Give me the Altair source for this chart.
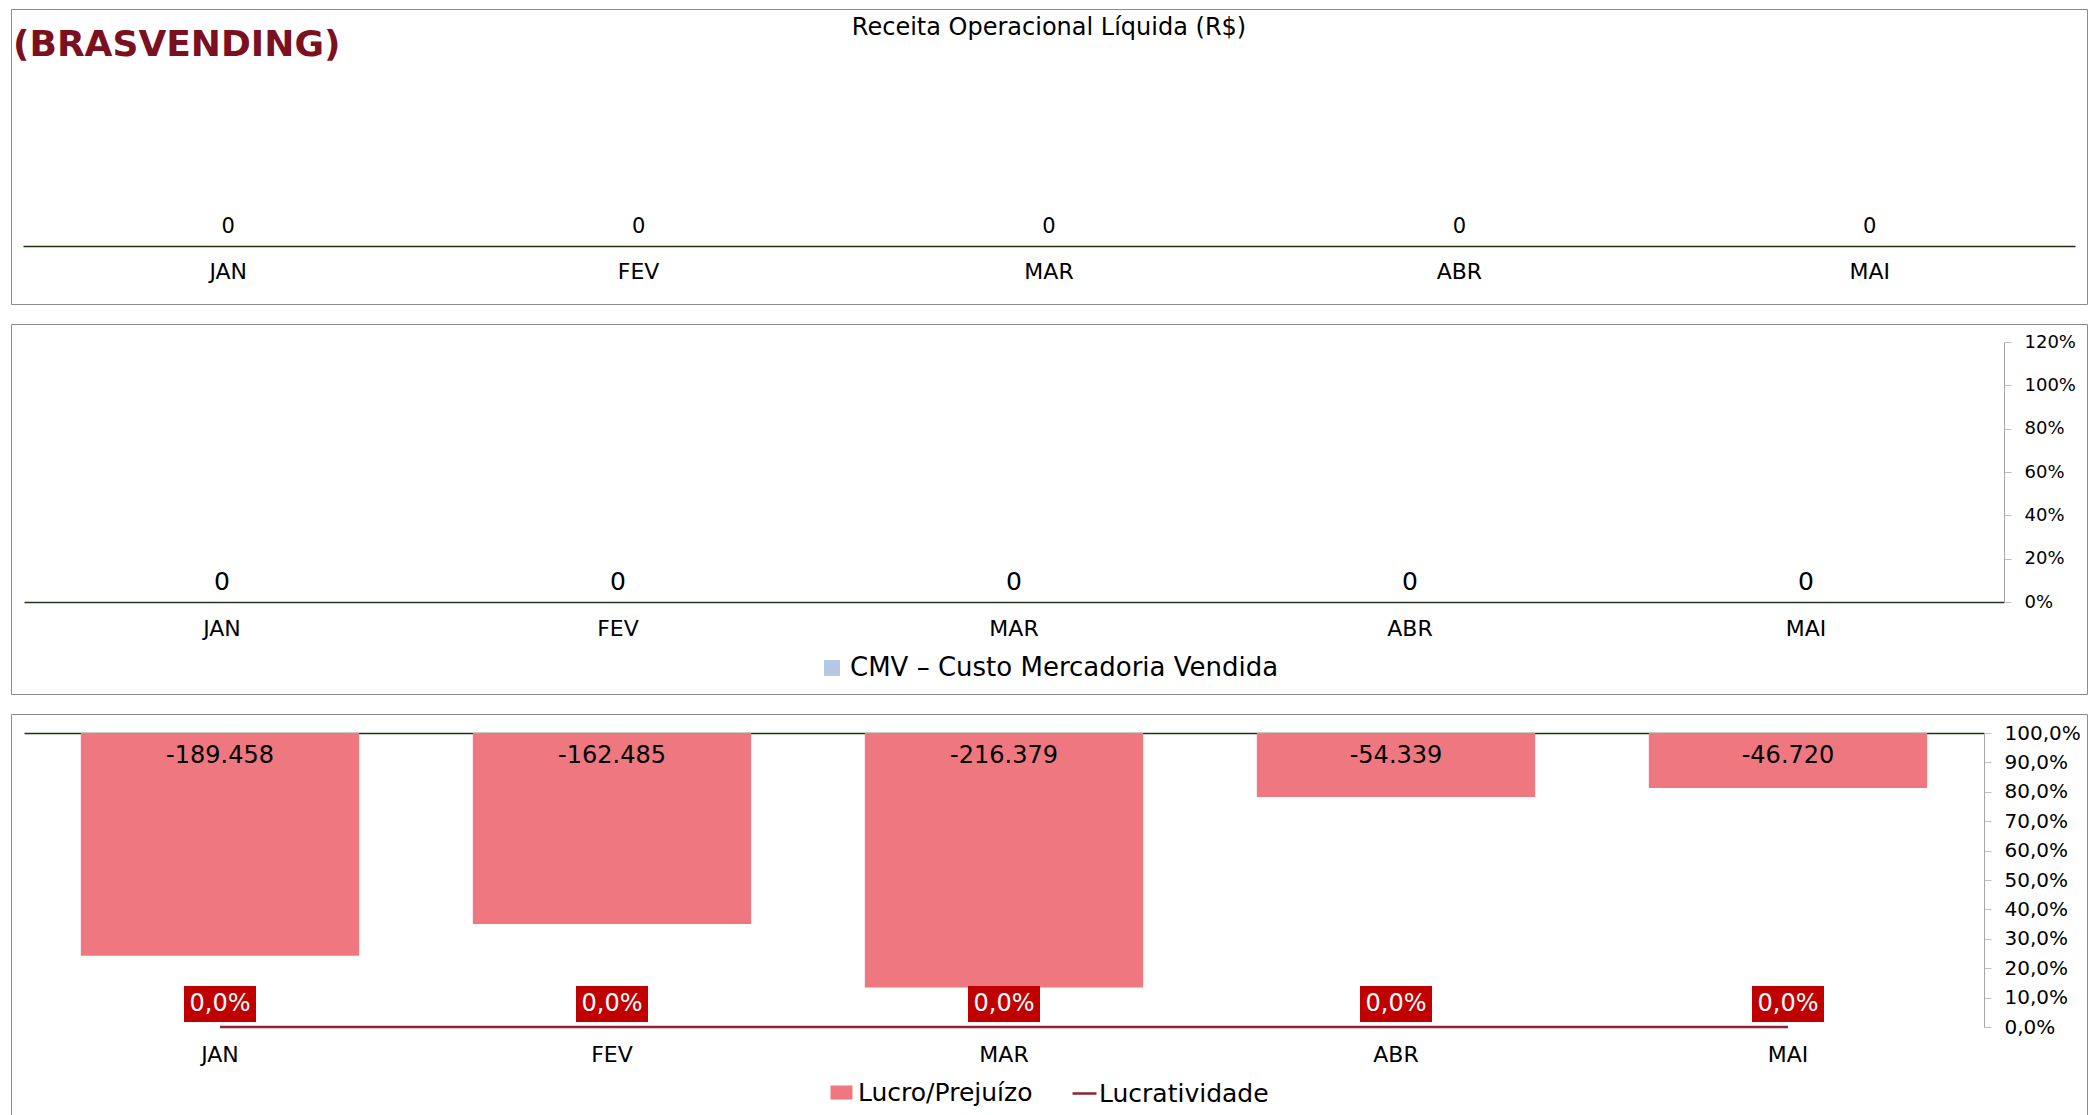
import altair as alt
import pandas as pd

# ---------------- data ----------------
months = ["JAN", "FEV", "MAR", "ABR", "MAI"]
receita = [0, 0, 0, 0, 0]
cmv = [0, 0, 0, 0, 0]
lucro = [-189458, -162485, -216379, -54339, -46720]
lucratividade = [0.0, 0.0, 0.0, 0.0, 0.0]
company = "(BRASVENDING)"
title_receita = "Receita Operacional Líquida (R$)"
serie_cmv = "CMV – Custo Mercadoria Vendida"
serie_lucro = "Lucro/Prejuízo"
serie_lucr = "Lucratividade"

FONT = "DejaVu Sans"
W = 2076
H1, H2, H3 = 295, 370, 402
BAR_RED = "#EE7780"
DARK_RED = "#8E2433"
BOX_RED = "#C00000"
CMV_BLUE = "#B4C7E7"
ZERO_GREEN = "#1B3310"


def br_int(v):
    return f"{v:,}".replace(",", ".")


def br_pct(v):
    return f"{v * 100:.1f}%".replace(".", ",")


df1 = pd.DataFrame({"mes": months, "valor": receita})
df2 = pd.DataFrame({"mes": months, "valor": cmv, "serie": [serie_cmv] * len(months)})
df3 = pd.DataFrame({
    "mes": months,
    "lucro": lucro,
    "lucr": lucratividade,
    "lucro_lbl": [br_int(v) for v in lucro],
    "lucr_lbl": [br_pct(v) for v in lucratividade],
    "s1": [serie_lucro] * len(months),
    "s2": [serie_lucr] * len(months),
})

# ---------------- panel 1 : Receita ----------------
x1 = alt.X("mes:N", sort=months, title=None,
           scale=alt.Scale(range=[12, 2064], paddingInner=0, paddingOuter=0),
           axis=alt.Axis(orient="bottom", offset=-58, domainColor=ZERO_GREEN, domainWidth=1.5,
                         ticks=False, tickSize=0, labelAngle=0, labelPadding=25,
                         labelBaseline="middle", labelFontSize=22, labelFont=FONT,
                         labelColor="#000000", grid=False))
y1 = alt.Y("valor:Q", title=None, scale=alt.Scale(domain=[0, 1], range=[237, 40]), axis=None)
base1 = alt.Chart(df1)
p1 = alt.layer(
    base1.mark_bar(color="#4472C4").encode(x=x1, y=y1),
    base1.mark_text(dy=-19, fontSize=21, font=FONT, color="#000000").encode(
        x=x1, y=y1, text=alt.Text("valor:Q", format="d")),
    alt.Chart(pd.DataFrame({"t": [title_receita]})).mark_text(
        fontSize=24, font=FONT, color="#000000", align="center", baseline="middle").encode(
        text="t:N", x=alt.value(1038), y=alt.value(19)),
    alt.Chart(pd.DataFrame({"t": [company]})).mark_text(
        fontSize=36, font=FONT, fontWeight="bold", color="#7B1020", align="left",
        baseline="middle").encode(text="t:N", x=alt.value(2), y=alt.value(36)),
).properties(width=W, height=H1)

# ---------------- panel 2 : CMV ----------------
x2 = alt.X("mes:N", sort=months, title=None,
           scale=alt.Scale(range=[13, 1993], paddingInner=0, paddingOuter=0),
           axis=alt.Axis(orient="bottom", offset=-92, domainColor="#26331F", domainWidth=1.3,
                         ticks=False, tickSize=0, labelAngle=0, labelPadding=26,
                         labelBaseline="middle", labelFontSize=22, labelFont=FONT,
                         labelColor="#000000", grid=False))
y2_axis = alt.Axis(orient="right", offset=-83, values=[0, 0.2, 0.4, 0.6, 0.8, 1.0, 1.2],
                   format=".0%", domainColor="#A6A6A6", tickColor="#BFBFBF", tickSize=7,
                   labelPadding=13, labelFontSize=18, labelFont=FONT, labelColor="#000000",
                   labelBaseline="middle", grid=False)
y2 = alt.Y("valor:Q", title=None, scale=alt.Scale(domain=[0, 1.2], range=[278, 18]), axis=y2_axis)
base2 = alt.Chart(df2)
p2 = alt.layer(
    base2.mark_bar().encode(
        x=x2, y=y2,
        fill=alt.Fill("serie:N", scale=alt.Scale(range=[CMV_BLUE]),
                      legend=alt.Legend(title=None, orient="none", legendX=808, legendY=331,
                                        symbolType="square", symbolSize=256, symbolStrokeWidth=0,
                                        labelFontSize=26, labelFont=FONT, labelColor="#000000",
                                        labelOffset=5, labelLimit=0, padding=0)),
    ),
    base2.mark_text(dy=-20, fontSize=25, font=FONT, color="#000000").encode(
        x=x2, y=y2, text=alt.Text("valor:Q", format="d")),
).properties(width=W, height=H2)

# ---------------- panel 3 : Lucro / Lucratividade ----------------
xs = alt.Scale(range=[13, 1973], paddingInner=0.29, paddingOuter=0.145)
x_top = alt.X("mes:N", sort=months, title=None, scale=xs,
              axis=alt.Axis(orient="top", offset=-19, domainColor=ZERO_GREEN, domainWidth=1.5,
                            ticks=False, tickSize=0, labels=False, grid=False))
x_bot = alt.X("mes:N", sort=months, title=None, scale=xs,
              axis=alt.Axis(orient="bottom", offset=-89, domain=False, ticks=False, tickSize=0,
                            labelAngle=0, labelPadding=27, labelBaseline="middle",
                            labelFontSize=22, labelFont=FONT, labelColor="#000000", grid=False))
x_none = alt.X("mes:N", sort=months, title=None, scale=xs, axis=None)

yl_scale = alt.Scale(domain=[-250000, 0], range=[313, 19])
yr_scale = alt.Scale(domain=[0, 1], range=[313, 19])
yr_axis = alt.Axis(orient="right", offset=-103, values=[i / 10 for i in range(11)],
                   labelExpr="replace(format(datum.value, '.1%'), '.', ',')",
                   domainColor="#A6A6A6", tickColor="#BFBFBF", tickSize=7, labelPadding=13,
                   labelFontSize=20, labelFont=FONT, labelColor="#000000",
                   labelBaseline="middle", grid=False)

base3 = alt.Chart(df3)
bars3 = base3.mark_bar().encode(
    x=x_top,
    y=alt.Y("lucro:Q", title=None, scale=yl_scale, axis=None),
    fill=alt.Fill("s1:N", scale=alt.Scale(range=[BAR_RED]),
                  legend=alt.Legend(title=None, orient="none", legendX=818, legendY=366,
                                    symbolType="M-1,-0.64L1,-0.64L1,0.64L-1,0.64Z",
                                    symbolSize=484, symbolStrokeWidth=0,
                                    labelFontSize=25, labelFont=FONT, labelColor="#000000",
                                    labelOffset=4, labelLimit=0, padding=0)),
)
bar_lbl3 = base3.transform_calculate(zero="0").mark_text(
    dy=23, fontSize=24, font=FONT, color="#000000").encode(
    x=x_none,
    y=alt.Y("zero:Q", title=None, scale=yl_scale, axis=None),
    text="lucro_lbl:N",
)
line3 = base3.mark_line(strokeWidth=2.5).encode(
    x=x_bot,
    y=alt.Y("lucr:Q", title=None, scale=yr_scale, axis=yr_axis),
    stroke=alt.Stroke("s2:N", scale=alt.Scale(range=[DARK_RED]),
                      legend=alt.Legend(title=None, orient="none", legendX=1060, legendY=366,
                                        symbolType="stroke", symbolSize=576,
                                        symbolStrokeWidth=2.5,
                                        labelFontSize=25, labelFont=FONT, labelColor="#000000",
                                        labelOffset=1, labelLimit=0, padding=0)),
)
box3 = base3.mark_point(shape="M-1,-0.5L1,-0.5L1,0.5L-1,0.5Z", size=5184, filled=True,
                        color=BOX_RED, opacity=1, yOffset=-23).encode(
    x=x_none,
    y=alt.Y("lucr:Q", title=None, scale=yr_scale, axis=None),
)
box_lbl3 = base3.mark_text(dy=-23, fontSize=24, font=FONT, color="#FFFFFF").encode(
    x=x_none,
    y=alt.Y("lucr:Q", title=None, scale=yr_scale, axis=None),
    text="lucr_lbl:N",
)
p3 = alt.layer(bars3, bar_lbl3, line3, box3, box_lbl3).resolve_scale(
    y="independent").resolve_axis(x="independent").properties(width=W, height=H3)

chart = alt.vconcat(p1, p2, p3, spacing=18).resolve_scale(
    fill="independent", stroke="independent").resolve_legend(
    fill="independent", stroke="independent").properties(
    padding={"left": 2, "top": 0, "right": 0, "bottom": 0},
    background="white",
).configure_view(stroke="#8C8C8C", strokeWidth=1)

chart.save("out.html", embed_options={"renderer": "svg", "actions": False})
